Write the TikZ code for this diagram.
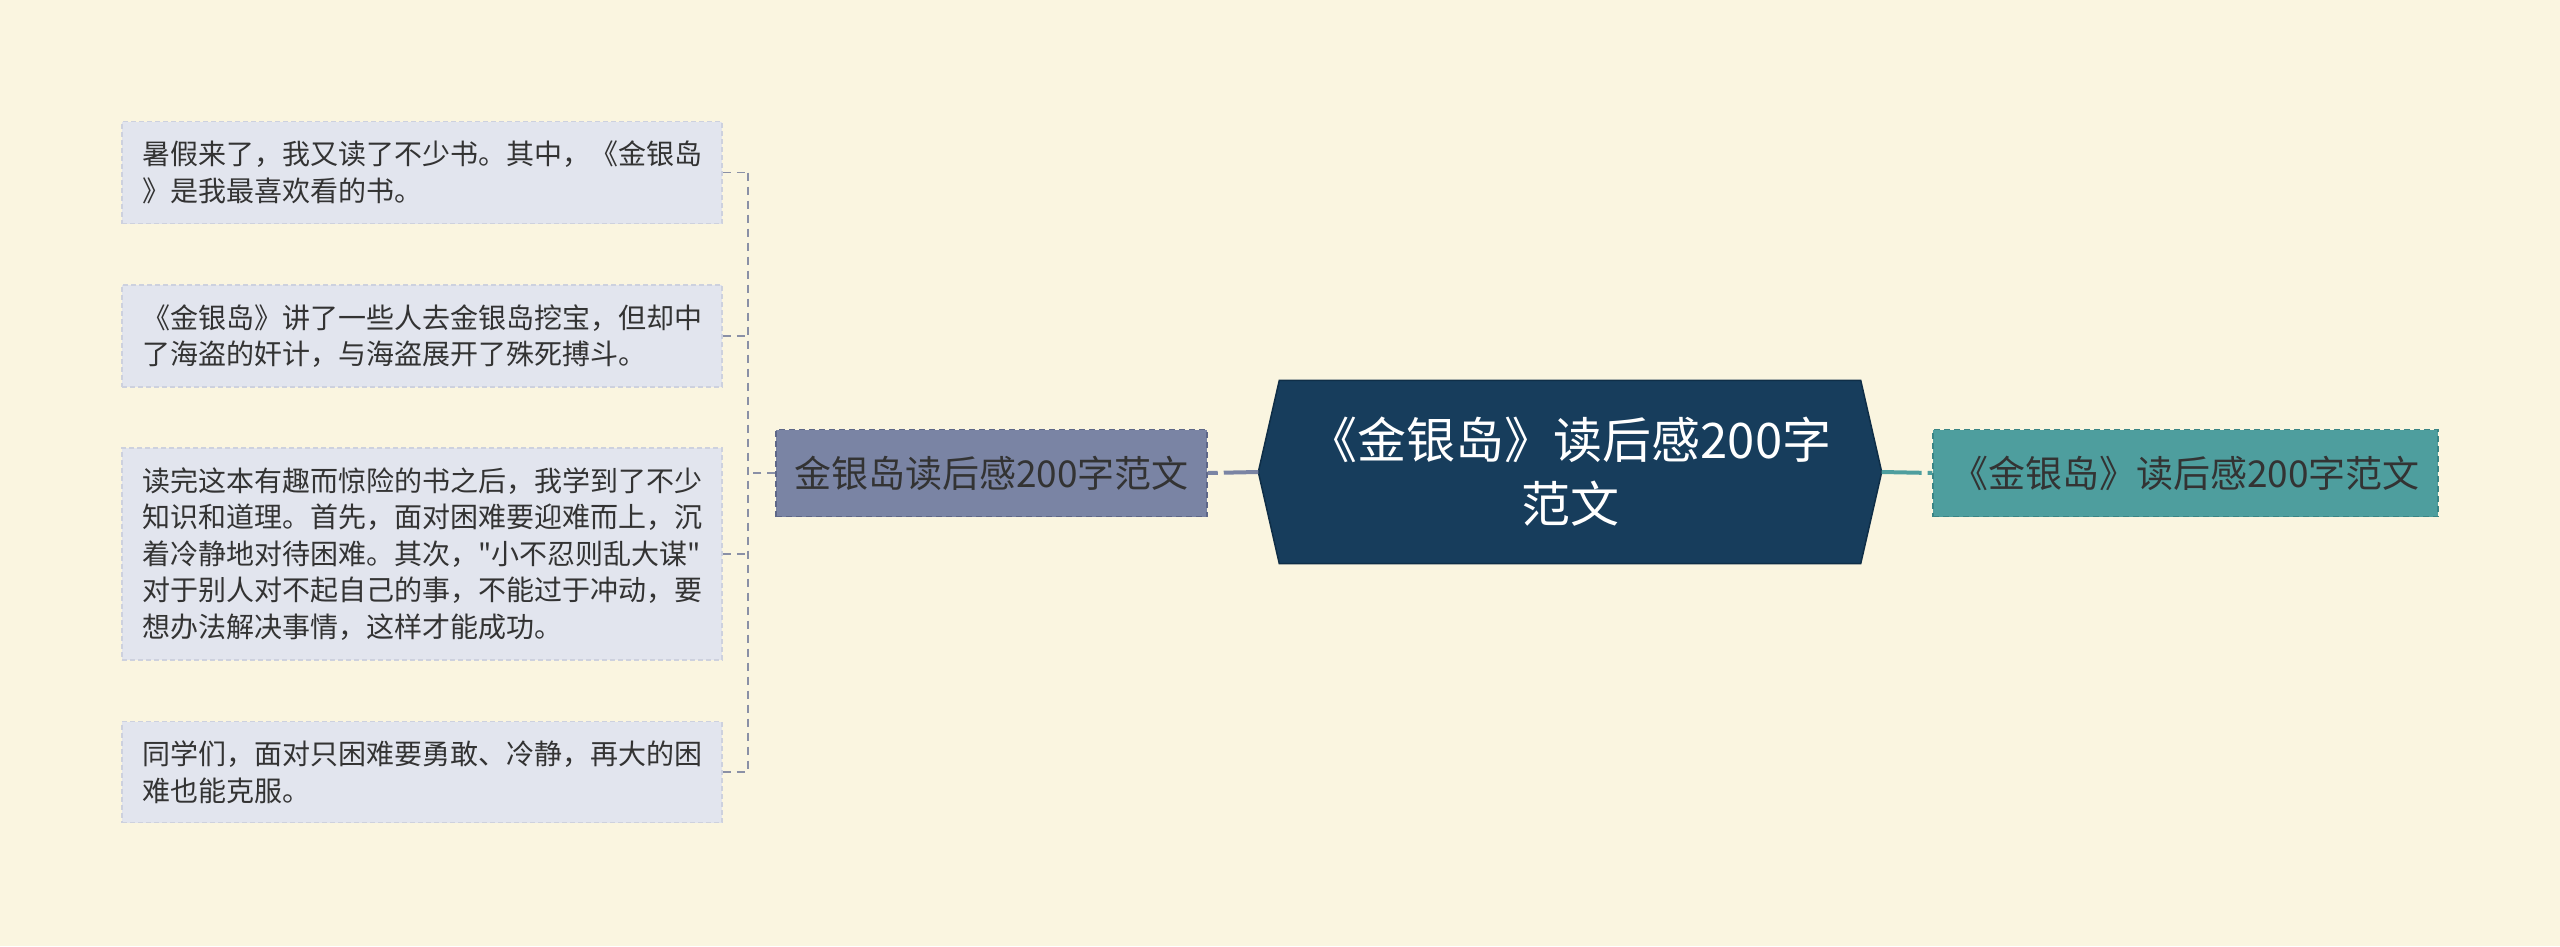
\documentclass[tikz,border=0pt]{standalone}
\usepackage{fontspec}
\setmainfont{Noto Sans CJK SC}[Ligatures=TeXOff]
\usetikzlibrary{calc,backgrounds}
\definecolor{bg}{HTML}{FAF5E0}
\definecolor{leaffill}{HTML}{E2E5EE}
\definecolor{leafborder}{HTML}{CDD1DE}
\definecolor{txt}{HTML}{333333}
\definecolor{branchfill}{HTML}{7A84A4}
\definecolor{branchborder}{HTML}{5E6788}
\definecolor{mainfill}{HTML}{173D5C}
\definecolor{mainborder}{HTML}{0F2E47}
\definecolor{tealfill}{HTML}{4E9E9E}
\definecolor{tealborder}{HTML}{3A8585}
\definecolor{bracket}{HTML}{8A90A6}
\tikzset{
  leaf/.style={rectangle, fill=leaffill, draw=leafborder, line width=1.5pt,
    dash pattern=on 5pt off 3pt, minimum width=600pt, inner xsep=15pt, inner ysep=0pt,
    align=left, text=txt, font=\fontsize{28}{36.5}\selectfont},
  subbox/.style={rectangle, line width=1.5pt, dash pattern=on 6pt off 4pt,
    inner sep=0pt, text=txt, font=\fontsize{37}{44}\selectfont},
  brk/.style={draw=bracket, line width=1.5pt, dash pattern=on 8pt off 6pt},
}
\begin{document}
\begin{tikzpicture}[x=1pt,y=-1pt]
\begin{scope}[on background layer]
\fill[bg] (0,0) rectangle (2560,946);
\end{scope}
\useasboundingbox (0,0) rectangle (2560,946);
% leaves
\node[leaf, minimum height=102pt] (l1) at (422,172.5) {暑假来了，我又读了不少书。其中，《金银岛\\》是我最喜欢看的书。};
\node[leaf, minimum height=102pt] (l2) at (422,336) {《金银岛》讲了一些人去金银岛挖宝，但却中\\了海盗的奸计，与海盗展开了殊死搏斗。};
\node[leaf, minimum height=212pt] (l3) at (422,554) {读完这本有趣而惊险的书之后，我学到了不少\\知识和道理。首先，面对困难要迎难而上，沉\\着冷静地对待困难。其次，"小不忍则乱大谋"\\对于别人对不起自己的事，不能过于冲动，要\\想办法解决事情，这样才能成功。};
\node[leaf, minimum height=101pt] (l4) at (422,772) {同学们，面对只困难要勇敢、冷静，再大的困\\难也能克服。};
% branch
\node[subbox, fill=branchfill, draw=branchborder, minimum width=431pt, minimum height=87pt] (br) at (991.5,473) {金银岛读后感200字范文};
% main
\node[rectangle, inner sep=0pt, minimum width=581pt, minimum height=183pt, align=center,
  text=white, font=\fontsize{49}{64}\selectfont] (main) at (1570,472) {《金银岛》读后感200字\\范文};
\coordinate (mainL) at ($(main.west)+(-21,0)$);
\coordinate (mainR) at ($(main.east)+(21,0)$);
\begin{scope}[on background layer]
\filldraw[fill=mainfill, draw=mainborder, line width=1.5pt]
  (mainL) -- (main.north west) -- (main.north east) -- (mainR) -- (main.south east) -- (main.south west) -- cycle;
\end{scope}
% right
\node[subbox, fill=tealfill, draw=tealborder, minimum width=505pt, minimum height=87pt] (rt) at (2185.5,473) {《金银岛》读后感200字范文};
% connectors
\draw[draw=branchfill, line width=4pt, dash pattern=on 10pt off 6pt on 40pt off 0pt] (br.east) -- (mainL);
\draw[draw=tealfill, line width=4pt, dash pattern=on 40pt off 6pt on 10pt off 0pt] (mainR) -- (rt.west);
\coordinate (bx) at (748,473);
\coordinate (btop) at (748,172.5);
\coordinate (bbot) at (748,772);
\draw[brk] (br.west) -- (bx);
\draw[brk] (btop) -- (bbot);
\draw[brk] (l1.east) -- (btop);
\draw[brk] (l2.east) -- (l2.east -| bx);
\draw[brk] (l3.east) -- (l3.east -| bx);
\draw[brk] (l4.east) -- (bbot);
\end{tikzpicture}
\end{document}
